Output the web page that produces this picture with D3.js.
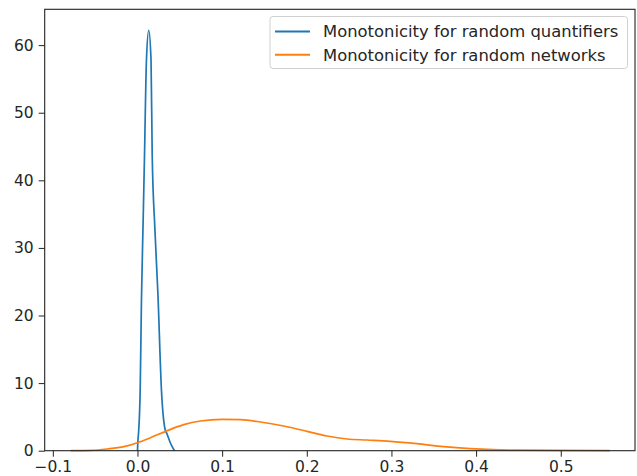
<!DOCTYPE html>
<html>
<head>
<meta charset="utf-8">
<script src="https://cdn.jsdelivr.net/npm/d3@7"></script>
<style>
  body { margin: 0; background: #fff; }
  text { font-family: "DejaVu Sans", sans-serif; }
</style>
</head>
<body>
<svg id="chart" width="637" height="476"></svg>
<script>
// values
var quantX = [0.0, 0.0004, 0.0015, 0.0032, 0.0047, 0.0066, 0.0083, 0.0106, 0.0133, 0.016, 0.0174, 0.0205, 0.0242, 0.0283, 0.0327, 0.0345, 0.039, 0.0437]
var quantY = [0.0, 1.2, 3.1, 9.0, 22.3, 33.5, 43.7, 57.8, 62.2, 57.8, 43.7, 33.0, 23.0, 9.0, 3.1, 2.6, 1.1, 0.0]

var netX = [-0.079, -0.055, -0.036, -0.016, 0.0, 0.0153, 0.034, 0.0547, 0.0744, 0.1, 0.1216, 0.1452, 0.1727, 0.2003, 0.224, 0.2476, 0.2712, 0.2987, 0.33, 0.3617, 0.393, 0.42, 0.452, 0.5, 0.558]
var netY = [0.0, 0.05, 0.25, 0.6, 1.18, 1.92, 2.9, 3.85, 4.39, 4.64, 4.59, 4.25, 3.65, 2.87, 2.17, 1.73, 1.58, 1.39, 1.04, 0.59, 0.3, 0.15, 0.08, 0.04, 0.0]

var xTicks = [-0.1, 0.0, 0.1, 0.2, 0.3, 0.4, 0.5]
var yTicks = [0, 10, 20, 30, 40, 50, 60]

var seriesNames = ["Monotonicity for random quantifiers", "Monotonicity for random networks"]
var colors = ["#1f77b4", "#ff7f0e"]

var svg = d3.select("#chart")
var plotLeft = 44.7, plotRight = 635, plotTop = 9.3, plotBottom = 450.7

var x = d3.scaleLinear().domain([-0.1096, 0.5877]).range([plotLeft, plotRight])
var y = d3.scaleLinear().domain([0, 65.3]).range([plotBottom, plotTop])

var line = d3.line()
  .x(function (d) { return x(d[0]) })
  .y(function (d) { return y(d[1]) })
  .curve(d3.curveMonotoneX)

var series = [d3.zip(quantX, quantY), d3.zip(netX, netY)]

var plot = svg.append("g")
series.forEach(function (pts, i) {
  plot.append("path")
    .datum(pts)
    .attr("d", line)
    .attr("fill", "none")
    .attr("stroke", colors[i])
    .attr("stroke-width", 1.7)
    .attr("stroke-linejoin", "round")
})

// axes
var xAxis = d3.axisBottom(x).tickValues(xTicks).tickSize(6).tickPadding(4)
  .tickFormat(function (d) { return d3.format(".1f")(d).replace("-", "\u2212") })
var yAxis = d3.axisLeft(y).tickValues(yTicks).tickSize(6).tickPadding(5)

var gx = svg.append("g").attr("transform", "translate(0," + plotBottom + ")").call(xAxis)
var gy = svg.append("g").attr("transform", "translate(" + plotLeft + ",0)").call(yAxis)

;[gx, gy].forEach(function (g) {
  g.select(".domain").remove()
  g.selectAll("line").attr("stroke", "#222").attr("stroke-width", 1)
  g.selectAll("text").attr("fill", "#262626").style("font-size", "15.5px")
    .style("font-family", "DejaVu Sans, sans-serif")
})

// frame
svg.append("rect")
  .attr("x", plotLeft).attr("y", plotTop)
  .attr("width", plotRight - plotLeft).attr("height", plotBottom - plotTop)
  .attr("fill", "none").attr("stroke", "#222").attr("stroke-width", 1.1)

// legend
var legend = svg.append("g").attr("transform", "translate(270,16.5)")
legend.append("rect")
  .attr("width", 357.5).attr("height", 52)
  .attr("rx", 3)
  .attr("fill", "#fff").attr("fill-opacity", 0.8)
  .attr("stroke", "#d0d0d0")

seriesNames.forEach(function (name, i) {
  var row = legend.append("g").attr("transform", "translate(0," + (15 + i * 23.3) + ")")
  row.append("line")
    .attr("x1", 5).attr("x2", 40)
    .attr("stroke", colors[i]).attr("stroke-width", 2)
  row.append("text")
    .attr("x", 53).attr("dy", "0.35em")
    .attr("fill", "#262626")
    .style("font-size", "16.4px")
    .text(name)
})
</script>
</body>
</html>
